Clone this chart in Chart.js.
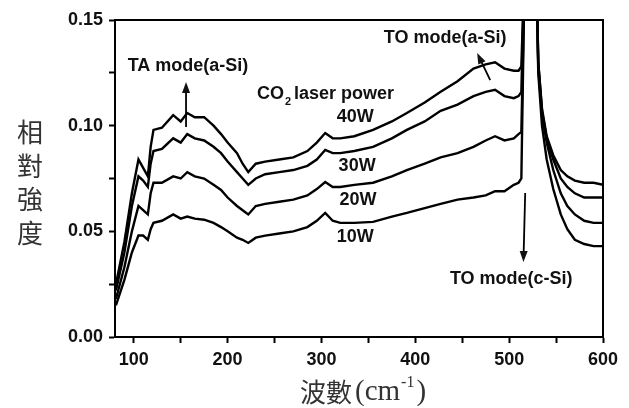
<!DOCTYPE html>
<html>
<head>
<meta charset="utf-8">
<script src="https://cdn.jsdelivr.net/npm/chart.js@4/dist/chart.umd.min.js"></script>
<style>
  html, body { margin: 0; padding: 0; background: #fff; }
  #wrap { width: 629px; height: 408px; }
</style>
</head>
<body>
<div id="wrap"><canvas id="chart" width="629" height="408"></canvas></div>
<script>
// wavenumber (cm-1), shared by all four spectra
var waveNumbers = [81, 90, 98, 105, 110, 115, 118, 121, 130, 142, 150, 157, 165, 175, 185, 193, 200, 210, 216, 222,
    230, 240, 255, 270, 285, 295, 304, 312, 320, 335, 355, 375, 391, 410, 427, 445, 462, 475, 485, 495,
    505, 510, 513, 516, 519, 522, 525, 528, 531, 535, 540, 547, 555, 562, 570, 580, 590, 600];

var power40 = [0.025, 0.045, 0.068, 0.084, 0.080, 0.076, 0.090, 0.098, 0.099, 0.105, 0.102, 0.106, 0.104, 0.104, 0.100, 0.096, 0.092, 0.087, 0.082, 0.078,
    0.082, 0.083, 0.084, 0.085, 0.088, 0.092, 0.0965, 0.094, 0.094, 0.095, 0.098, 0.102, 0.106, 0.111, 0.116, 0.121, 0.127, 0.129, 0.130, 0.127,
    0.126, 0.126, 0.128, 0.17, 0.50, 0.55, 0.40, 0.20, 0.13, 0.108, 0.095, 0.086, 0.079, 0.076, 0.074, 0.073, 0.073, 0.072];

var power30 = [0.022, 0.040, 0.062, 0.076, 0.074, 0.071, 0.082, 0.088, 0.089, 0.094, 0.092, 0.096, 0.094, 0.093, 0.090, 0.087, 0.083, 0.078, 0.075, 0.072,
    0.075, 0.077, 0.078, 0.079, 0.081, 0.084, 0.0885, 0.087, 0.087, 0.088, 0.090, 0.094, 0.098, 0.102, 0.107, 0.110, 0.114, 0.116, 0.117, 0.114,
    0.113, 0.114, 0.116, 0.17, 0.50, 0.55, 0.40, 0.20, 0.13, 0.107, 0.094, 0.084, 0.075, 0.071, 0.068, 0.066, 0.066, 0.066];

var power20 = [0.018, 0.033, 0.050, 0.062, 0.060, 0.058, 0.068, 0.073, 0.073, 0.076, 0.075, 0.078, 0.076, 0.075, 0.072, 0.0696, 0.066, 0.062, 0.060, 0.058,
    0.062, 0.063, 0.064, 0.065, 0.067, 0.070, 0.0733, 0.071, 0.071, 0.072, 0.073, 0.076, 0.079, 0.082, 0.085, 0.087, 0.090, 0.093, 0.095, 0.093,
    0.094, 0.096, 0.097, 0.16, 0.50, 0.55, 0.40, 0.20, 0.128, 0.105, 0.092, 0.079, 0.068, 0.062, 0.058, 0.055, 0.054, 0.054];

var power10 = [0.015, 0.027, 0.040, 0.048, 0.048, 0.046, 0.051, 0.054, 0.055, 0.058, 0.056, 0.057, 0.056, 0.0555, 0.054, 0.052, 0.050, 0.047, 0.046, 0.0445,
    0.047, 0.048, 0.049, 0.050, 0.052, 0.055, 0.0587, 0.055, 0.054, 0.054, 0.0545, 0.057, 0.0587, 0.061, 0.063, 0.065, 0.066, 0.067, 0.069, 0.069,
    0.072, 0.073, 0.075, 0.16, 0.50, 0.55, 0.40, 0.20, 0.125, 0.100, 0.084, 0.070, 0.058, 0.051, 0.046, 0.044, 0.043, 0.043];

var seriesNames = ["40W", "30W", "20W", "10W"];
var seriesValues = [power40, power30, power20, power10];

var xTickLabels = [100, 200, 300, 400, 500, 600];
var yTickLabels = ["0.00", "0.05", "0.10", "0.15"];

function points(ys) {
    return waveNumbers.map(function (x, i) { return { x: x, y: ys[i] }; });
}

var boldFont = '"Liberation Sans", Arial, sans-serif';

// frame, axis titles and annotation text/arrows
var decorations = {
    id: 'decorations',
    afterDraw: function (chart) {
        var c = chart.ctx, a = chart.chartArea;
        var xs = chart.scales.x, ys = chart.scales.y;
        function px(x) { return xs.getPixelForValue(x); }
        function py(y) { return ys.getPixelForValue(y); }

        c.save();
        c.strokeStyle = '#000';
        c.lineWidth = 2;
        c.strokeRect(a.left, a.top, a.right - a.left, a.bottom - a.top);

        c.fillStyle = '#111';
        c.textAlign = 'center';
        c.textBaseline = 'middle';
        c.font = 'bold 18px ' + boldFont;
        c.fillText('TA mode(a-Si)', px(157.8), py(0.128));
        c.fillText('TO mode(a-Si)', px(431.8), py(0.1415));
        c.fillText('TO mode(c-Si)', px(502.2), py(0.0274));
        seriesNames.forEach(function (name, i) {
            var pos = [[336, 0.1041], [338, 0.0809], [339, 0.0648], [336, 0.0473]][i];
            c.fillText(name, px(pos[0]), py(pos[1]));
        });

        // CO2 laser power
        c.textAlign = 'left';
        var x0 = px(80 + (257 - 115) / 0.938), y0 = py(0.115);
        c.fillText('CO', x0, y0);
        var w = c.measureText('CO').width;
        c.font = 'bold 11px ' + boldFont;
        c.fillText('2', x0 + w + 1, y0 + 8);
        c.font = 'bold 18px ' + boldFont;
        c.fillText('laser power', x0 + w + 10, y0);

        function arrow(x1, y1, x2, y2) {
            var X1 = px(x1), Y1 = py(y1), X2 = px(x2), Y2 = py(y2);
            var ang = Math.atan2(Y2 - Y1, X2 - X1);
            c.lineWidth = 1.8;
            c.beginPath();
            c.moveTo(X1, Y1);
            c.lineTo(X2 - 6 * Math.cos(ang), Y2 - 6 * Math.sin(ang));
            c.stroke();
            c.beginPath();
            c.moveTo(X2, Y2);
            c.lineTo(X2 - 11 * Math.cos(ang) + 4 * Math.sin(ang), Y2 - 11 * Math.sin(ang) - 4 * Math.cos(ang));
            c.lineTo(X2 - 11 * Math.cos(ang) - 4 * Math.sin(ang), Y2 - 11 * Math.sin(ang) + 4 * Math.cos(ang));
            c.closePath();
            c.fill();
        }
        arrow(155.7, 0.0994, 155.7, 0.1207);
        arrow(479.8, 0.1216, 465.9, 0.1344);
        arrow(517.1, 0.0681, 515.2, 0.0355);

        // y title, stacked characters
        c.fillStyle = '#333';
        c.textAlign = 'center';
        c.font = '26px "Noto Sans CJK TC"';
        var chars = ['相', '對', '強', '度'];
        var cy = [132, 166, 199, 233];
        chars.forEach(function (ch, i) { c.fillText(ch, 30, cy[i]); });

        // x title
        c.textAlign = 'left';
        c.fillText('波數', 300, 392);
        c.font = '29px "Liberation Serif", serif';
        c.fillText('(cm', 355, 392);
        var w2 = c.measureText('(cm').width;
        c.font = '16px "Liberation Serif", serif';
        c.fillText('-1', 355 + w2 + 1, 383);
        var w3 = c.measureText('-1').width;
        c.font = '29px "Liberation Serif", serif';
        c.fillText(')', 355 + w2 + w3 + 3, 392);
        c.restore();
    }
};

var ctx = document.getElementById('chart').getContext('2d');
var chart = new Chart(ctx, {
    type: 'line',
    data: {
        datasets: seriesValues.map(function (vals, i) {
            return {
                label: seriesNames[i],
                data: points(vals),
                borderColor: '#000',
                borderWidth: 2.4,
                pointRadius: 0,
                tension: 0,
                fill: false
            };
        })
    },
    options: {
        responsive: false,
        animation: false,
        layout: { padding: { top: 20, right: 26, left: 0, bottom: 0 } },
        plugins: { legend: { display: false }, tooltip: { enabled: false } },
        scales: {
            x: {
                type: 'linear',
                min: 80,
                max: 600,
                border: { display: true, color: '#000', width: 2 },
                grid: { drawOnChartArea: false, color: '#000', tickLength: 6, tickWidth: 2 },
                ticks: {
                    stepSize: 50,
                    includeBounds: false,
                    maxRotation: 0,
                    autoSkip: false,
                    padding: 6,
                    color: '#111',
                    font: { family: boldFont, size: 18, weight: 'bold' },
                    callback: function (v) { return xTickLabels.indexOf(v) >= 0 ? String(v) : ''; }
                },
                afterFit: function (s) { s.height = 71; }
            },
            y: {
                min: 0,
                max: 0.15,
                border: { display: true, color: '#000', width: 2 },
                grid: { drawOnChartArea: false, color: '#000', tickLength: 6, tickWidth: 2 },
                ticks: {
                    stepSize: 0.025,
                    autoSkip: false,
                    padding: 6,
                    color: '#111',
                    font: { family: boldFont, size: 18, weight: 'bold' },
                    callback: function (v) {
                        var k = v / 0.05;
                        if (Math.abs(k - Math.round(k)) > 1e-6) return '';
                        return yTickLabels[Math.round(k)];
                    }
                },
                afterFit: function (s) { s.width = 115; }
            }
        }
    },
    plugins: [decorations]
});
</script>
</body>
</html>
